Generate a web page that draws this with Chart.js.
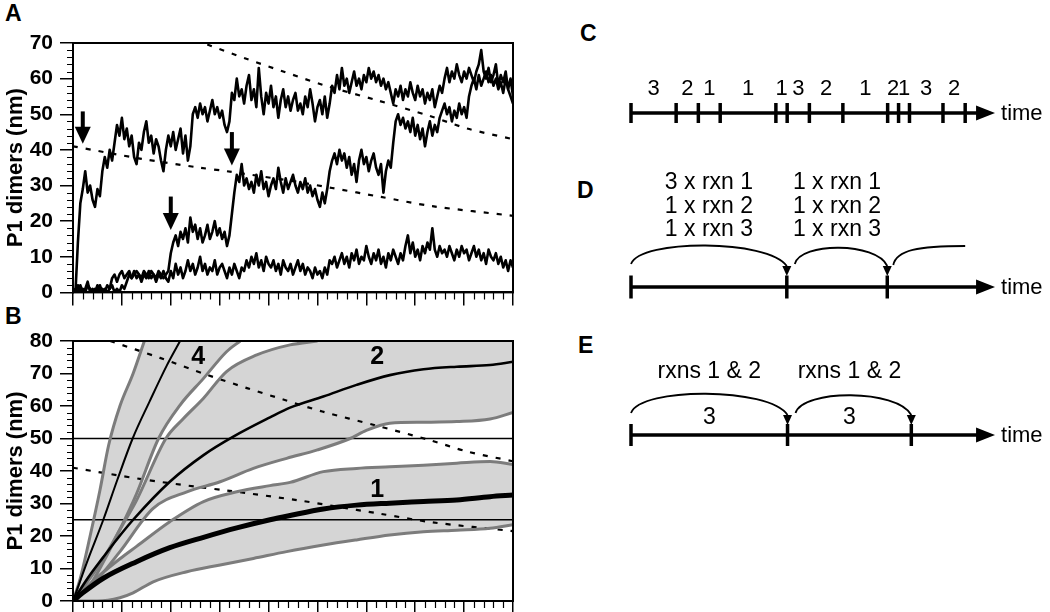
<!DOCTYPE html>
<html><head><meta charset="utf-8">
<script src="https://cdn.jsdelivr.net/npm/chart.js@4.4.1/dist/chart.umd.min.js"></script>
<style>
html,body{margin:0;padding:0;background:#fff;width:1050px;height:612px;overflow:hidden;position:relative;font-family:"Liberation Sans",Arial,sans-serif}
canvas{position:absolute}
.lbl{position:absolute;font-weight:bold;font-size:23px;line-height:23px;color:#000}
</style></head><body>
<div class="lbl" style="left:5px;top:2px">A</div>
<div class="lbl" style="left:5px;top:305px">B</div>
<div class="lbl" style="left:580px;top:22px">C</div>
<div class="lbl" style="left:577px;top:179px">D</div>
<div class="lbl" style="left:578px;top:334px">E</div>
<canvas id="cA" width="525" height="312" style="left:0;top:0"></canvas>
<canvas id="cB" width="525" height="330" style="left:0;top:300px"></canvas>
<canvas id="cR" width="510" height="612" style="left:540px;top:0"></canvas>
<script>
// ---------------- DATA ----------------
const yTitle = 'P1 dimers (nm)';
const xMajorTicks = [0,10,20,30,40,50,60,70,80,90];
const yTicksA = [0,10,20,30,40,50,60,70];
const yTicksB = [0,10,20,30,40,50,60,70,80];

// Panel A: three single-molecule traces sampled every 0.5 time units
const traceStep = 0.5;
const trace1 = [
0,0,14,25,29,34,28,30,26,24,
29,27,34,38,35,40,37,42,47,44,
49,43,46,41,44,38,36,42,40,45,
48,42,44,39,43,41,37,34,40,44,
41,45,40,43,46,39,44,37,41,50,
52,49,53,50,52,48,51,54,50,52,
49,51,47,45,48,56,54,60,55,57,
53,58,61,54,57,52,63,55,50,56,
53,58,52,55,49,54,57,52,55,51,
54,56,51,53,50,55,52,57,53,48,
52,54,50,55,49,53,58,56,61,57,
63,58,60,56,59,62,58,60,57,61,
59,63,60,62,59,61,58,60,57,59,
56,53,57,55,58,54,57,55,59,56,
54,58,55,57,53,56,54,57,52,55,
58,56,60,63,59,62,60,64,61,59,
62,60,63,61,59,62,64,68,62,60,
63,59,61,64,58,61,59,62,57,60,55];
const trace2 = [
0,1,0,2,0,1,3,0,1,0,
2,0,1,0,2,1,4,5,3,5,
6,4,5,6,4,5,6,5,4,6,
5,4,6,5,4,6,5,4,5,6,
11,14,16,13,17,15,18,14,21,17,
19,15,18,14,16,19,15,17,20,16,
18,15,17,13,16,22,28,33,31,36,
30,32,29,31,28,33,30,34,29,31,
27,30,32,29,35,31,28,32,29,31,
33,30,28,31,29,32,28,30,27,29,
26,24,28,25,29,34,37,39,36,40,
37,39,35,38,33,36,31,37,40,36,
38,34,37,39,35,33,36,28,34,37,
35,42,48,50,47,49,46,48,45,49,
44,47,43,46,41,45,48,44,47,45,
49,51,53,50,52,48,51,49,53,50,
52,49,55,58,60,57,61,58,60,62,
59,61,58,60,57,59,56,60,57,55,53];
const trace3 = [
1,0,2,0,1,0,2,1,0,1,
0,2,0,1,0,1,2,0,1,0,
2,1,3,5,4,6,4,5,3,5,
4,6,4,5,3,5,4,6,4,3,
6,4,8,5,7,4,6,9,6,8,
5,7,10,6,8,5,7,6,9,5,
7,8,6,4,7,5,8,6,4,7,
6,9,7,10,8,11,7,9,6,10,
8,7,9,6,8,5,9,7,6,8,
5,7,9,6,8,5,7,6,4,7,
5,6,4,7,5,9,8,10,7,9,
11,8,10,7,11,9,12,8,10,9,
13,10,8,11,9,12,8,10,7,11,
9,12,10,8,11,9,13,16,11,14,
10,12,9,13,11,14,12,18,12,10,
13,11,12,10,13,11,9,12,10,13,
11,12,9,11,13,10,12,9,11,8,
12,10,9,11,8,10,7,9,6,9,7];

// dashed reference curves (shared by A and B)
const dashUpperX = [7.6,17.8,27.4,35.6,43,51,62,73,80.6,90];
const dashUpperY = [80,74.8,69.6,65.5,62,58.3,54,49.5,46,43];
const dashLowerX = [0,14,26,31.5,46,53,63,73.5,90];
const dashLowerY = [41,37.5,35,34,31,29.3,26.8,24.2,21.5];

// arrows in A
const arrowX   = [2.0, 20.0, 32.5];
const arrowTop = [50.8, 26.9, 45.0];
const arrowTip = [41.7, 17.5, 35.6];

// Panel B: mean curves
const c4X = [0,3,6.2,9,12.2,15.7,19.2,21.9];
const c4Y = [0,12.5,25,37,50,61.5,72.5,80];
const c2X = [0,3,6.2,9,12.3,19.8,26.7,32.7,40.3,44.4,51.2,58,64.8,71.7,78.5,85.3,90];
const c2Y = [0,7,13.5,19,25,36.7,44.9,50.5,56.5,59.5,62.9,66.5,69.5,71.3,72.1,72.6,73.6];
const c1X = [0,2,6.2,13,19.8,26.7,33.5,40.3,44.4,51.2,58,64.8,71.7,78.5,85.3,90];
const c1Y = [0,2.5,7,12.1,16.4,19.6,22.5,25,26.3,28.3,29.5,30.1,30.6,31.1,32.1,32.6];
// Panel B: envelope (gray) curves
const u4X = [0,1.5,3.5,5.5,7.3,9.6,12.3,14.6];
const u4Y = [0,7,20,34,48,60,70,80];
const l4X = [0,3.5,6.2,9.6,13,17.5,21.9,26.7,31.4,34.2];
const l4Y = [0,5,12,22,33,50,60.3,68.5,76.7,80];
const u2X = [0,3.5,6.2,9.6,13,19,22.5,26.7,31.4,37.6,44.4,50];
const u2Y = [0,7,13,22,31,50,56,62.4,70.6,75.7,78.8,80];
const l2X = [0,4,9.6,16.4,23.3,30.1,36.9,43.7,50,56.7,60,64.8,71.7,78.5,85.3,90];
const l2Y = [0,5,15.2,28.5,33.6,36.7,40.8,43.9,46.5,50,52.5,54.7,55,55.2,56,58];
const u1X = [0,4,9.6,13,19.8,26.7,33.5,40.3,44.4,51.2,58,64.8,71.7,78.5,85.3,90];
const u1Y = [0,6,13,16.8,24.4,30.6,33.6,35.5,36.5,39.8,40.8,41.3,41.8,42.4,42.9,42];
const l1X = [0,5,9.6,12.3,16.4,23.3,30.1,36.9,43.7,51.2,58,64.8,71.7,78.5,85.3,90];
const l1Y = [0,0,1,2.5,5.9,9,11.1,13.1,15.2,17.2,18.8,20.3,21.3,21.8,22.4,23.5];
const refLevels = [25, 50];
const curveLabels = ['4','2','1'];
const curveLabelX = [25.6, 62.2, 62.2];
const curveLabelY = [75, 75, 34.2];

// Panels C, D, E (time in arbitrary units, arrow tip = 100)
const timeEnd = 100;
const timeWord = 'time';
const tlC = [0,12.4,18.5,24.5,39.8,42.9,49,58.2,70.5,73.5,76.5,85.7,91.8];
const rxnC = ['3','2','1','1','1','3','2','1','2','1','3','2'];
const tlD = [0,42.8,70.4];
const rxnD = [['3 x rxn 1','1 x rxn 2','1 x rxn 3'],['1 x rxn 1','1 x rxn 2','1 x rxn 3']];
const trailD = 91.8;
const tlE = [0,43,77];
const rxnE = ['rxns 1 & 2','rxns 1 & 2'];
const midE = ['3','3'];

// ---------------- helpers ----------------
const FONT = '"Liberation Sans", Arial, sans-serif';
Chart.defaults.font.family = FONT;
const toXY = (vals, step) => vals.map((v,i)=>({x:i*step, y:v}));
const pairs = (xs, ys) => xs.map((v,i)=>({x:v, y:ys[i]}));

const axesDecor = {
  id:'axesDecor',
  afterDraw(chart){
    const {ctx, chartArea:a, scales:{x,y}} = chart;
    ctx.save();
    ctx.strokeStyle = '#000';
    ctx.lineWidth = 1.2;
    ctx.beginPath();
    for (let v = y.min; v <= y.max + 1e-9; v += 2) {
      if (Math.abs(v % 10) < 1e-9) continue;
      const py = Math.round(y.getPixelForValue(v)) + 0.5;
      ctx.moveTo(a.left - 6, py); ctx.lineTo(a.left, py);
    }
    for (let v = x.min; v <= x.max + 1e-9; v += 2) {
      if (Math.abs(v % 10) < 1e-9) continue;
      const px = Math.round(x.getPixelForValue(v)) + 0.5;
      ctx.moveTo(px, a.bottom); ctx.lineTo(px, a.bottom + 7);
    }
    ctx.stroke();
    ctx.lineWidth = 2;
    ctx.strokeRect(a.left, a.top, a.right - a.left, a.bottom - a.top);
    ctx.restore();
  }
};

const arrowsA = {
  id:'arrowsA',
  afterDatasetsDraw(chart){
    const {ctx, scales:{x,y}} = chart;
    ctx.save(); ctx.fillStyle = '#000';
    arrowX.forEach((ux,i)=>{
      const px = x.getPixelForValue(ux);
      const top = y.getPixelForValue(arrowTop[i]);
      const tip = y.getPixelForValue(arrowTip[i]);
      const hh = 17, hw = 8;
      ctx.fillRect(px-2, top, 4, tip-hh-top+1);
      ctx.beginPath(); ctx.moveTo(px-hw, tip-hh); ctx.lineTo(px+hw, tip-hh); ctx.lineTo(px, tip); ctx.closePath(); ctx.fill();
    });
    ctx.restore();
  }
};

const labelsB = {
  id:'labelsB',
  afterDatasetsDraw(chart){
    const {ctx, scales:{x,y}} = chart;
    ctx.save(); ctx.fillStyle = '#000';
    ctx.font = 'bold 25px ' + FONT;
    ctx.textAlign = 'center'; ctx.textBaseline = 'middle';
    curveLabels.forEach((t,i)=> ctx.fillText(t, x.getPixelForValue(curveLabelX[i]), y.getPixelForValue(curveLabelY[i])));
    ctx.restore();
  }
};

function panelOptions(yMax, yTicks, padTop, xAxisH){
  return {
    responsive:false, animation:false, devicePixelRatio:1,
    layout:{autoPadding:false, padding:{top:padTop, right:12, bottom:0, left:0}},
    plugins:{legend:{display:false}, tooltip:{enabled:false}},
    elements:{point:{radius:0}, line:{borderCapStyle:'butt', borderJoinStyle:'round'}},
    scales:{
      x:{type:'linear', min:0, max:90,
        afterBuildTicks:s=>{ s.ticks = xMajorTicks.map(v=>({value:v})); },
        afterFit:s=>{ s.height = xAxisH; },
        ticks:{display:false},
        grid:{display:true, drawOnChartArea:false, drawTicks:true, tickLength:13, color:'#000', lineWidth:1.5},
        border:{display:true, color:'#000', width:2}
      },
      y:{type:'linear', min:0, max:yMax,
        afterBuildTicks:s=>{ s.ticks = yTicks.map(v=>({value:v})); },
        afterFit:s=>{ s.width = 73; },
        ticks:{autoSkip:false, padding:7, color:'#000', font:{size:21, weight:'bold', family:FONT}},
        grid:{display:true, drawOnChartArea:false, drawTicks:true, tickLength:13, color:'#000', lineWidth:1.5},
        border:{display:true, color:'#000', width:2},
        title:{display:true, text:yTitle, color:'#000', font:{size:22, weight:'bold', family:FONT}, padding:{top:3,bottom:0}}
      }
    }
  };
}

// ---------------- Chart A ----------------
const traceStyle = {borderColor:'#000', borderWidth:2.6, pointRadius:0, tension:0, fill:false};
const dashStyle = {borderColor:'#000', borderWidth:2.2, borderDash:[5,8], pointRadius:0, tension:0.3, fill:false};
new Chart(document.getElementById('cA'), {
  type:'line',
  data:{datasets:[
    Object.assign({data:toXY(trace1, traceStep), order:1}, traceStyle),
    Object.assign({data:toXY(trace2, traceStep), order:1}, traceStyle),
    Object.assign({data:toXY(trace3, traceStep), order:1}, traceStyle),
    Object.assign({data:pairs(dashUpperX, dashUpperY), order:5}, dashStyle),
    Object.assign({data:pairs(dashLowerX, dashLowerY), order:5}, dashStyle)
  ]},
  options:panelOptions(70, yTicksA, 43, 17),
  plugins:[axesDecor, arrowsA]
});

// ---------------- Chart B ----------------
const FILL = '#d5d5d5';
const GRAY = '#7c7c7c';
const hidden = {borderWidth:0, pointRadius:0, cubicInterpolationMode:'monotone'};
const grayLine = {borderColor:GRAY, borderWidth:3, pointRadius:0, cubicInterpolationMode:'monotone', fill:false, order:6};
const dsB = [
  Object.assign({data:pairs(l1X,l1Y)}, grayLine),
  Object.assign({data:pairs(u1X,u1Y)}, grayLine),
  Object.assign({data:pairs(l2X,l2Y)}, grayLine),
  Object.assign({data:pairs(u2X,u2Y)}, grayLine),
  Object.assign({data:pairs(l4X,l4Y)}, grayLine),
  Object.assign({data:pairs(u4X,u4Y)}, grayLine),
  {data:pairs(c4X,c4Y), borderColor:'#000', borderWidth:2, pointRadius:0, cubicInterpolationMode:'monotone', fill:false, order:3},
  {data:pairs(c2X,c2Y), borderColor:'#000', borderWidth:2.6, pointRadius:0, cubicInterpolationMode:'monotone', fill:false, order:3},
  {data:pairs(c1X,c1Y), borderColor:'#000', borderWidth:5, pointRadius:0, cubicInterpolationMode:'monotone', fill:false, order:2},
  Object.assign({data:pairs(dashUpperX, dashUpperY), order:7}, dashStyle),
  Object.assign({data:pairs(dashLowerX, dashLowerY), order:7}, dashStyle),
  ...refLevels.map(v=>({data:[{x:0,y:v},{x:90,y:v}], borderColor:'#000', borderWidth:1.4, pointRadius:0, fill:false, order:8})),
  Object.assign({data:pairs(l2X,l2Y), fill:'end', backgroundColor:FILL, order:20}, hidden),
  Object.assign({data:pairs(u2X,u2Y), fill:'end', backgroundColor:'#ffffff', order:19}, hidden),
  Object.assign({data:pairs(l4X,l4Y), fill:'end', backgroundColor:FILL, order:18}, hidden),
  Object.assign({data:pairs(u4X,u4Y), fill:'end', backgroundColor:'#ffffff', order:17}, hidden),
  Object.assign({data:pairs(u1X,u1Y), fill:0, backgroundColor:FILL, order:16}, hidden)
];
new Chart(document.getElementById('cB'), {
  type:'line',
  data:{datasets:dsB},
  options:panelOptions(80, yTicksB, 41, 29),
  plugins:[axesDecor, labelsB]
});

// ---------------- Chart C/D/E (diagrams) ----------------
const ROW = {C:113, D:287, E:435};
const lineEnd = timeEnd - 3;
function timeline(row){ return {type:'scatter', data:[{x:0,y:row},{x:lineEnd,y:row}], showLine:true, borderColor:'#000', borderWidth:3.5, pointRadius:0}; }
function tickSet(times, row, r){ return {type:'scatter', data:times.map(t=>({x:t,y:row})), showLine:false, pointStyle:'line', rotation:90, pointRadius:r, pointBorderWidth:3.5, pointBorderColor:'#000', pointBackgroundColor:'#000'}; }

function arcArrow(ctx, x0, y0, x1, baseY, tipY, ctrlY){
  const dx = x1 - x0;
  ctx.beginPath(); ctx.moveTo(x0, y0);
  ctx.bezierCurveTo(x0 + dx*0.06, ctrlY, x1 - dx*0.12, ctrlY, x1, baseY);
  ctx.stroke();
  ctx.beginPath(); ctx.moveTo(x1-4.5, baseY); ctx.lineTo(x1+4.5, baseY); ctx.lineTo(x1, tipY); ctx.closePath(); ctx.fill();
}

const diagramDecor = {
  id:'diagramDecor',
  afterDatasetsDraw(chart){
    const {ctx, scales:{x}} = chart;
    const X = v => x.getPixelForValue(v);
    ctx.save();
    ctx.fillStyle = '#000'; ctx.strokeStyle = '#000';
    [ROW.C, ROW.D, ROW.E].forEach(r=>{
      const tip = X(timeEnd);
      ctx.beginPath(); ctx.moveTo(tip, r); ctx.lineTo(tip-19, r-7.5); ctx.lineTo(tip-19, r+7.5); ctx.closePath(); ctx.fill();
      ctx.font = '22px ' + FONT; ctx.textAlign = 'left'; ctx.textBaseline = 'middle';
      ctx.fillText(timeWord, tip+6, r+1);
    });
    ctx.font = '22px ' + FONT; ctx.textAlign = 'center'; ctx.textBaseline = 'middle';
    rxnC.forEach((t,i)=> ctx.fillText(t, X((tlC[i]+tlC[i+1])/2), ROW.C-24));
    ctx.font = '23px ' + FONT;
    rxnD.forEach((lines,i)=>{
      const cx = X((tlD[i]+tlD[i+1])/2);
      lines.forEach((s,j)=> ctx.fillText(s, cx, ROW.D-104+j*23.5));
    });
    ctx.lineWidth = 1.8;
    for (let i=0;i<tlD.length-1;i++){
      arcArrow(ctx, X(tlD[i]) + (i?8:0), ROW.D-23, X(tlD[i+1]), ROW.D-21, ROW.D-11, ROW.D-(i?45:48));
    }
    {
      const x0 = X(tlD[tlD.length-1]) + 6, x1 = X(trailD);
      ctx.beginPath(); ctx.moveTo(x0, ROW.D-22);
      ctx.bezierCurveTo(x0+3, ROW.D-37, x0+25, ROW.D-41, x1, ROW.D-41);
      ctx.stroke();
    }
    ctx.font = '23px ' + FONT;
    rxnE.forEach((t,i)=> ctx.fillText(t, X((tlE[i]+tlE[i+1])/2), ROW.E-63));
    midE.forEach((t,i)=> ctx.fillText(t, X((tlE[i]+tlE[i+1])/2), ROW.E-17));
    for (let i=0;i<tlE.length-1;i++){
      arcArrow(ctx, X(tlE[i]) + (i?8:0), ROW.E-22, X(tlE[i+1]), ROW.E-20, ROW.E-10, ROW.E-(i?46:48));
    }
    ctx.restore();
  }
};

new Chart(document.getElementById('cR'), {
  type:'scatter',
  data:{datasets:[
    timeline(ROW.C), timeline(ROW.D), timeline(ROW.E),
    tickSet(tlC, ROW.C, 10), tickSet(tlD, ROW.D, 11.5), tickSet(tlE, ROW.E, 11)
  ]},
  options:{
    responsive:false, animation:false, devicePixelRatio:1,
    layout:{autoPadding:false, padding:0},
    plugins:{legend:{display:false}, tooltip:{enabled:false}},
    scales:{
      x:{type:'linear', min:-25, max:115.1, display:false},
      y:{type:'linear', min:0, max:612, reverse:true, display:false}
    }
  },
  plugins:[diagramDecor]
});
</script>
</body></html>
